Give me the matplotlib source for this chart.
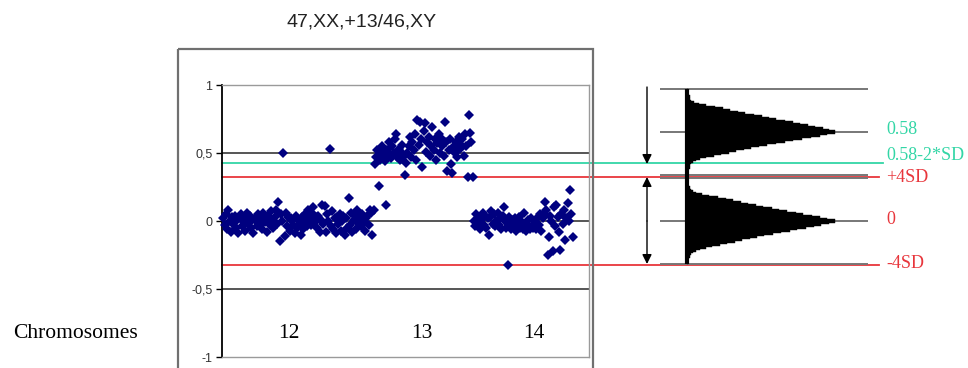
import matplotlib
matplotlib.use("Agg")
import matplotlib.pyplot as plt
import numpy as np
from matplotlib.patches import Rectangle

# ---------------- data ----------------
title = "47,XX,+13/46,XY"
chrom_labels = ["12", "13", "14"]

chr12 = [0.02, -0.03, 0.05, -0.06, 0.08, 0.0, -0.08, 0.03, -0.02, 0.04,
         -0.05, 0.01, -0.09, 0.02, 0.05, -0.04, 0.0, -0.07, 0.03, 0.06,
         -0.02, 0.04, -0.05, 0.01, -0.09, 0.02, 0.0, -0.04, 0.05, -0.03,
         0.03, -0.06, 0.06, -0.01, 0.02, -0.08, 0.04, -0.03, 0.07, 0.01,
         -0.05, 0.03, 0.08, -0.02, 0.14, -0.15, 0.05, 0.0, 0.50, -0.11,
         0.06, -0.04, 0.03, -0.07, 0.02, 0.0, -0.03, -0.09, 0.04, -0.05,
         0.01, -0.02, -0.10, 0.03, -0.06, 0.05, 0.0, -0.04, 0.08, 0.02,
         -0.03, 0.06, 0.10, -0.01, 0.03, -0.05, 0.04, -0.08, 0.01, 0.12,
         -0.02, 0.11, -0.08, 0.05, 0.0, 0.53, -0.04, 0.07, -0.06, 0.02,
         -0.09, 0.03, -0.02, 0.05, -0.07, 0.0, 0.04, -0.10, 0.02, -0.05,
         0.17, -0.03, 0.06, -0.08, 0.01, 0.04, -0.06, 0.08, -0.02, 0.03,
         -0.04, 0.05, 0.0, -0.07, 0.02, 0.04, -0.03, 0.08, 0.06, -0.10]

chr13 = [0.08, 0.42, 0.47, 0.52, 0.26, 0.45, 0.50, 0.55, 0.48, 0.44,
         0.12, 0.52, 0.58, 0.49, 0.46, 0.55, 0.50, 0.60, 0.64, 0.47,
         0.53, 0.45, 0.51, 0.56, 0.48, 0.34, 0.43, 0.50, 0.55, 0.62,
         0.47, 0.58, 0.52, 0.64, 0.45, 0.74, 0.56, 0.73, 0.60, 0.40,
         0.66, 0.72, 0.51, 0.58, 0.62, 0.48, 0.55, 0.69, 0.52, 0.60,
         0.45, 0.57, 0.64, 0.50, 0.61, 0.55, 0.48, 0.73, 0.58, 0.37,
         0.52, 0.60, 0.42, 0.35, 0.55, 0.50, 0.58, 0.47, 0.62, 0.53,
         0.56, 0.60, 0.48, 0.64, 0.55, 0.32, 0.78, 0.65, 0.58, 0.32]

chr14 = [0.0, -0.04, 0.05, -0.02, 0.03, -0.06, 0.01, 0.06, -0.03, 0.04,
         -0.05, 0.02, -0.10, 0.03, 0.07, -0.02, 0.05, -0.04, 0.0, 0.06,
         -0.03, 0.02, -0.06, 0.04, 0.10, 0.0, -0.05, -0.32, 0.03, -0.02,
         -0.06, 0.01, -0.04, 0.02, -0.07, -0.01, 0.03, -0.05, 0.0, -0.06,
         0.06, -0.03, -0.07, 0.01, -0.04, -0.06, 0.02, -0.05, -0.02, 0.0,
         -0.06, 0.03, -0.03, 0.05, -0.07, 0.02, 0.06, 0.14, 0.08, -0.25,
         -0.12, 0.04, 0.0, -0.22, 0.10, -0.04, 0.12, 0.03, -0.08, -0.21,
         0.05, -0.02, 0.08, -0.14, 0.02, 0.13, 0.0, 0.23, 0.05, -0.12]

yticks = [-1, -0.5, 0, 0.5, 1]
ytick_labels = ["-1", "-0,5", "0", "0,5", "1"]

green_level = 0.425          # 0.58-2*SD line (left-plot scale)
red_levels = [0.32, -0.32]   # +/-4SD lines (left-plot scale)

# histogram panel (offsets from each mean, bin width 0.01)
hist_means = [0.58, 0.0]
hist_sd = 0.07
hist_offsets = [-0.275, -0.265, -0.255, -0.245, -0.235, -0.225, -0.215, -0.205,
                -0.195, -0.185, -0.175, -0.165, -0.155, -0.145, -0.135, -0.125,
                -0.115, -0.105, -0.095, -0.085, -0.075, -0.065, -0.055, -0.045,
                -0.035, -0.025, -0.015, -0.005,
                0.005, 0.015, 0.025, 0.035, 0.045, 0.055, 0.065, 0.075,
                0.085, 0.095, 0.105, 0.115, 0.125, 0.135, 0.145, 0.155,
                0.165, 0.175, 0.185, 0.195, 0.205, 0.215, 0.225, 0.235,
                0.245, 0.255, 0.265, 0.275]
hist_upper = [1, 1, 1, 1, 2, 2, 2, 3, 4, 6, 9, 13, 18, 23, 28, 33,
              38, 43, 48, 54, 60, 66, 71, 77, 83, 89, 94, 99,
              99, 95, 91, 86, 81, 76, 71, 66, 60, 55, 50, 45, 39, 34, 29, 24,
              19, 13, 8, 5, 3, 2, 2, 2, 1, 1, 1, 1]
hist_lower = [1, 1, 1, 1, 2, 2, 3, 4, 6, 9, 13, 17, 22, 27, 32, 37,
              42, 47, 52, 58, 63, 69, 74, 80, 85, 90, 95, 99,
              99, 94, 89, 84, 78, 73, 67, 62, 57, 51, 46, 41, 36, 31, 26, 21,
              15, 10, 6, 4, 3, 2, 2, 1, 1, 1, 1, 1]

right_labels = ["0.58", "0.58-2*SD", "+4SD", "0", "-4SD"]

# ---------------- figure ----------------
W, H = 968, 368
fig = plt.figure(figsize=(W / 100, H / 100), dpi=100)

navy = "#000080"
green = "#33D6A6"
red = "#E8363C"

def fx(px):
    return px / W

def fy(py):
    return (H - py) / H

# left scatter axes
L, R, T, B = 222, 589, 85, 357
ax = fig.add_axes([fx(L), fy(B), fx(R - L), (B - T) / H])
ax.set_facecolor("none")
ys = chr12 + chr13 + chr14
xs = np.arange(len(ys))
ax.plot(xs, ys, linestyle="none", marker="D", ms=5.4, color=navy,
        markeredgewidth=0, zorder=3, clip_on=False)
ax.set_xlim(-1, 292)
ax.set_ylim(-1, 1)
ax.set_yticks(yticks)
ax.set_yticklabels(ytick_labels, family="Liberation Sans", fontsize=9, color="#333333")
ax.set_xticks([])
ax.tick_params(axis="y", direction="out", length=4, width=1, color="black", pad=3)
for s in ["top", "right", "bottom"]:
    ax.spines[s].set_color("#9a9a9a")
    ax.spines[s].set_linewidth(1.0)
ax.spines["left"].set_color("black")
ax.spines["left"].set_linewidth(1.3)
for g in [0.5, 0, -0.5]:
    ax.axhline(g, color="#555555", lw=1.4, zorder=1)

# coloured threshold lines extending to the right panel
ext_g = (883 - L) / (R - L)
ext_r = (879 - L) / (R - L)
ax.axhline(green_level, xmin=0, xmax=ext_g, color=green, lw=1.3, clip_on=False, zorder=2)
for r in red_levels:
    ax.axhline(r, xmin=0, xmax=ext_r, color=red, lw=1.3, clip_on=False, zorder=2)

# histogram axes
HL, HR, HT, HB = 660, 868, 85, 270
axh = fig.add_axes([fx(HL), fy(HB), fx(HR - HL), (HB - HT) / H])
axh.set_facecolor("none")
axh.axis("off")
px_per_count = 1.49
axh.set_xlim(-(687 - HL) / px_per_count, (HR - 687) / px_per_count)
axh.set_ylim(-(HB - 221) / 153.4, (221 - HT) / 153.4)
for m, counts in zip(hist_means, [hist_upper, hist_lower]):
    axh.barh([m + o for o in hist_offsets], counts, height=0.0105, left=0,
             color="black", edgecolor="black", linewidth=0.3, zorder=3)
    for lvl in [m + 4 * hist_sd, m, m - 4 * hist_sd]:
        axh.axhline(lvl, color="#777777", lw=1.4, zorder=1)
axh.vlines(0, hist_means[1] - 4 * hist_sd, hist_means[0] + 4 * hist_sd,
           color="black", lw=3, zorder=4)

# decoration overlay in pixel coordinates
deco = fig.add_axes([0, 0, 1, 1], zorder=10)
deco.set_facecolor("none")
deco.axis("off")
deco.set_xlim(0, W)
deco.set_ylim(H, 0)
deco.add_patch(Rectangle((178, 49), 593 - 178, 340, fill=False,
                         edgecolor="#707070", lw=1.6, clip_on=False))
deco.text(362, 22, title, ha="center", va="center", fontsize=14,
          family=["Liberation Sans", "DejaVu Sans"], color="#222222")
deco.text(75, 333, "Chromosomes", ha="center", va="center", fontsize=15.5,
          family=["Liberation Serif", "DejaVu Serif"], color="black")
for lab, x in zip(chrom_labels, [289, 422, 534]):
    deco.text(x, 333, lab, ha="center", va="center", fontsize=15.5,
              family=["Liberation Serif", "DejaVu Serif"], color="black")

arrow_kw = dict(arrowstyle="-|>", mutation_scale=14, lw=1.0, color="black",
                shrinkA=0, shrinkB=0)
deco.annotate("", xy=(647, 164), xytext=(647, 87), arrowprops=arrow_kw)
deco.annotate("", xy=(647, 264), xytext=(647, 221), arrowprops=arrow_kw)
deco.annotate("", xy=(647, 177), xytext=(647, 221), arrowprops=arrow_kw)

lab_colors = [green, green, red, red, red]
lab_y = [129, 155.5, 178, 219, 264]
for t, c, y in zip(right_labels, lab_colors, lab_y):
    deco.text(886, y, t, ha="left", va="center", fontsize=13,
              family=["Liberation Serif", "DejaVu Serif"], color=c)

fig.savefig("out.png", dpi=100)
